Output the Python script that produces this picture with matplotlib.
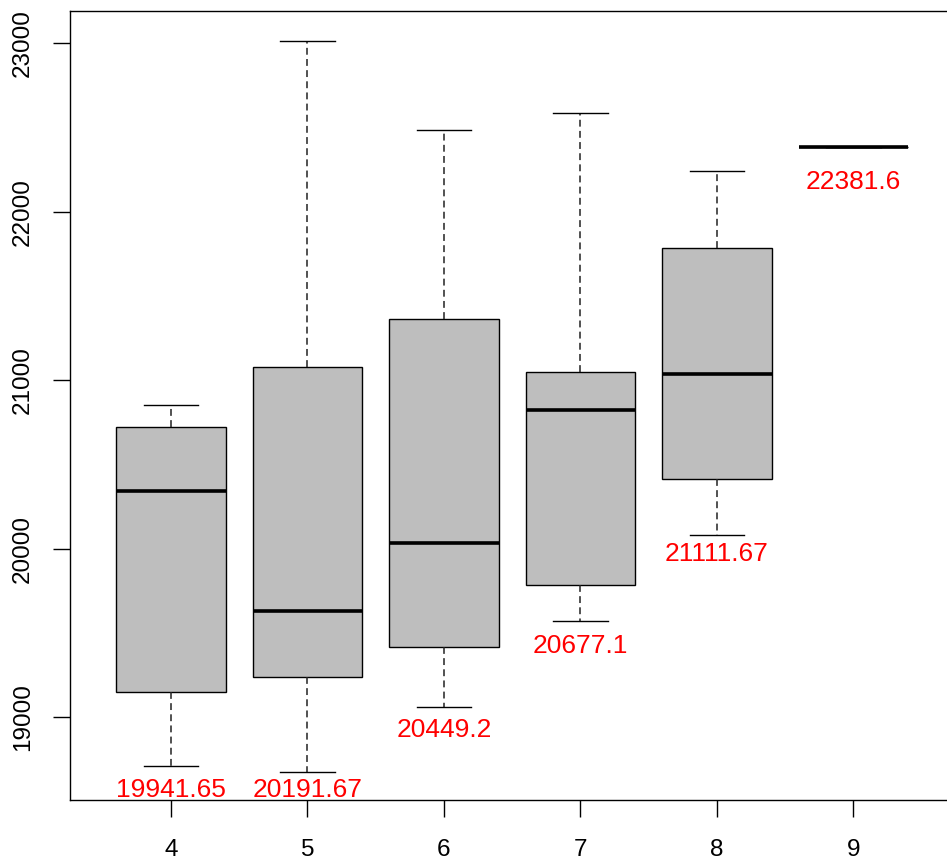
import matplotlib.pyplot as plt
import numpy as np

plt.rcParams['font.family'] = ['Liberation Sans', 'DejaVu Sans']

# boxplot summary stats
groups = [4, 5, 6, 7, 8, 9]
whislo = [18709, 18674, 19059, 19570, 20080, 22381.6]
q1 = [19148, 19237, 19415, 19783, 20412, 22381.6]
med = [20341, 19629, 20033, 20822, 21036, 22381.6]
q3 = [20721, 21077, 21362, 21047, 21783, 22381.6]
whishi = [20852, 23012, 22484, 22585, 22240, 22381.6]

# red labels (group means) and their baseline heights
means = [19941.65, 20191.67, 20449.2, 20677.1, 21111.67, 22381.6]
label_y = [18525, 18525, 18881, 19380, 19926, 22134]

stats = []
for i, g in enumerate(groups):
    stats.append(dict(label=str(g), whislo=whislo[i], q1=q1[i], med=med[i],
                      q3=q3[i], whishi=whishi[i], fliers=[]))

fig = plt.figure(figsize=(9.47, 8.67), dpi=100)
ax = fig.add_axes([0.0739, 0.0773, 0.934, 0.9097])

pos = np.arange(1, len(groups) + 1)
ax.bxp(stats, positions=pos, widths=0.8, patch_artist=True,
       boxprops=dict(facecolor='#bebebe', edgecolor='black', linewidth=1.0),
       medianprops=dict(color='black', linewidth=2.6, solid_capstyle='butt'),
       whiskerprops=dict(color='#222222', linewidth=1.1, linestyle=(0, (4.5, 2.8))),
       capprops=dict(color='black', linewidth=1.0), capwidths=0.4)

for p, m, y in zip(pos, means, label_y):
    ax.text(p, y, str(round(m, 2)), color='red', fontsize=19,
            ha='center', va='baseline')

ax.set_xlim(0.26, 6.74)
ax.set_ylim(18507, 23190)
ax.set_xticks(pos)
ax.set_xticklabels([str(g) for g in groups])
ax.set_yticks([19000, 20000, 21000, 22000, 23000])
ax.set_yticklabels(['19000', '20000', '21000', '22000', '23000'],
                   rotation=90, va='center')
ax.tick_params(axis='both', length=12, width=1, labelsize=17.5)
ax.tick_params(axis='y', pad=14)
ax.tick_params(axis='x', pad=16)
for s in ax.spines.values():
    s.set_linewidth(1.0)

fig.savefig('out.png', dpi=100)
